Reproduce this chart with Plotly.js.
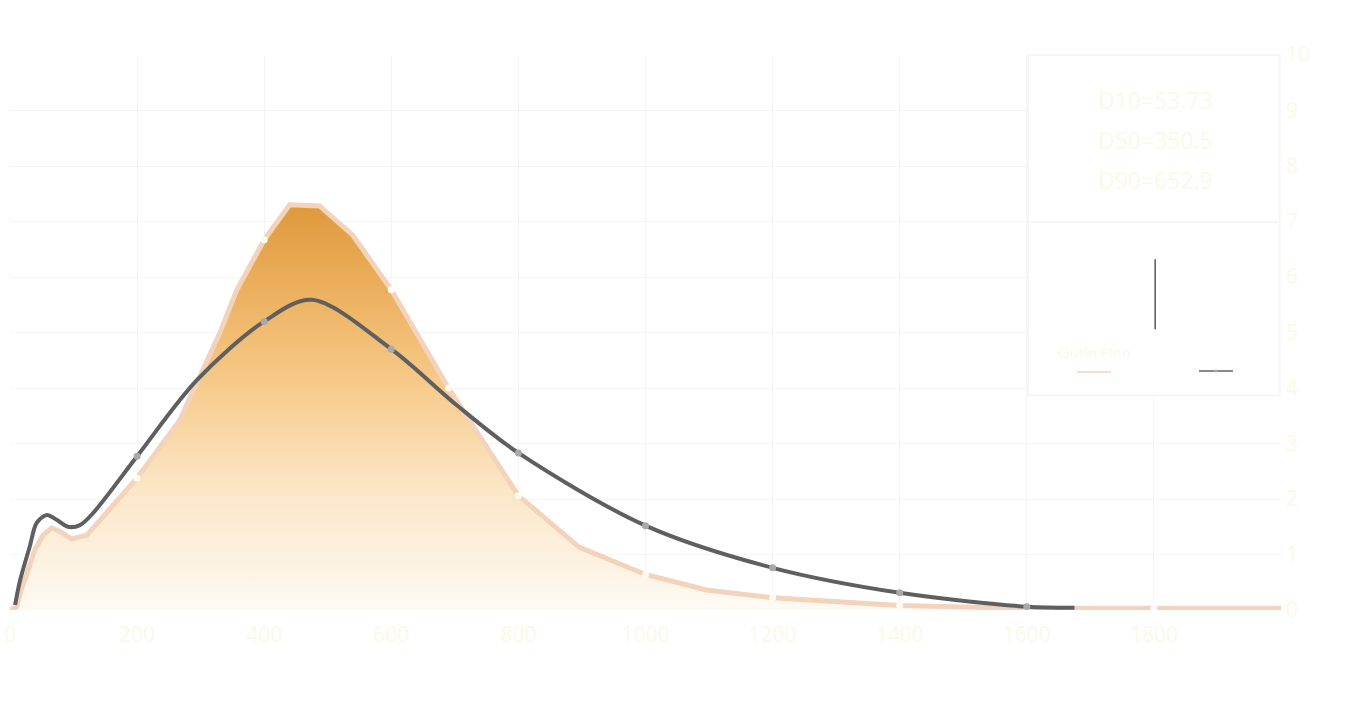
<!DOCTYPE html>
<html>
<head>
<meta charset="utf-8">
<script src="https://cdn.plot.ly/plotly-3.0.1.min.js"></script>
<style>
  html, body { margin: 0; padding: 0; background: #fff; }
  #chart { width: 1363px; height: 705px; }
</style>
</head>
<body>
<div id="chart"></div>
<script>
'use strict'

// orange (filled) distribution
const fineX = [0, 10, 16, 26, 39, 52, 66, 79, 97, 121, 200, 267, 294, 330, 357, 400, 440, 487, 539, 600, 690, 800, 896, 1000, 1096, 1200, 1400, 1600, 1800, 2000];
const fineY = [0, 0.05, 0.3, 0.67, 1.08, 1.35, 1.48, 1.41, 1.28, 1.35, 2.38, 3.42, 4.09, 4.99, 5.77, 6.67, 7.30, 7.28, 6.76, 5.77, 4.0, 2.06, 1.13, 0.64, 0.36, 0.22, 0.08, 0.03, 0.03, 0.03];
const fineMarkX = [200, 400, 600, 690, 800, 1000, 1200, 1400, 1600, 1800];

// grey smooth curve
const greyX = [8, 16, 31, 42, 58, 74, 91, 110, 131, 200, 294, 400, 475, 600, 703, 800, 1000, 1200, 1400, 1600, 1675];
const greyY = [0.09, 0.54, 1.14, 1.57, 1.71, 1.62, 1.50, 1.53, 1.75, 2.77, 4.14, 5.20, 5.59, 4.70, 3.69, 2.83, 1.52, 0.76, 0.31, 0.06, 0.04];
const greyMarkX = [200, 400, 600, 800, 1000, 1200, 1400, 1600];

const xTicks = [0, 200, 400, 600, 800, 1000, 1200, 1400, 1600, 1800, 2000];
const xTickText = ['0', '200', '400', '600', '800', '1000', '1200', '1400', '1600', '1800', ''];
const yTicks = [0, 1, 2, 3, 4, 5, 6, 7, 8, 9, 10];

const statLines = ['D10=53.73', 'D50=350.5', 'D90=652.9'];
const legendName = 'Outln Fino';

const pick = (xs, ys, keep) => keep.map(k => ys[xs.indexOf(k)]);

const cream = '#fdf7ea';
const gridCol = '#f5f5f5';
const boxLine = '#f6f6f6';

const traces = [
    {
        x: fineX, y: fineY,
        type: 'scatter', mode: 'lines',
        name: legendName,
        line: { color: '#f4d3bc', width: 5 },
        fill: 'tozeroy',
        fillgradient: {
            type: 'vertical',
            colorscale: [
                [0, '#fefaf4'],
                [0.3, '#fbe6c6'],
                [0.55, '#f7cb8b'],
                [0.8, '#ebaf5c'],
                [1, '#df993b']
            ]
        },
        hoverinfo: 'skip',
        showlegend: false
    },
    {
        x: fineMarkX, y: pick(fineX, fineY, fineMarkX),
        type: 'scatter', mode: 'markers',
        marker: { color: '#fffaf2', size: 7 },
        hoverinfo: 'skip',
        showlegend: false
    },
    {
        x: greyX, y: greyY,
        type: 'scatter', mode: 'lines',
        line: { color: '#5f5f5f', width: 4, shape: 'spline', smoothing: 0.9 },
        hoverinfo: 'skip',
        showlegend: false
    },
    {
        x: greyMarkX, y: pick(greyX, greyY, greyMarkX),
        type: 'scatter', mode: 'markers',
        marker: { color: '#a9a9a9', size: 7 },
        hoverinfo: 'skip',
        showlegend: false
    }
];

// the stats box at the top right, in paper coordinates
const shapes = [
    { type: 'rect', xref: 'paper', yref: 'paper', x0: 0.801, x1: 0.999, y0: 0.387, y1: 1.0,
      fillcolor: '#ffffff', line: { color: boxLine, width: 2 }, layer: 'above' },
    { type: 'line', xref: 'paper', yref: 'paper', x0: 0.801, x1: 0.999, y0: 0.699, y1: 0.699,
      line: { color: boxLine, width: 2 }, layer: 'above' },
    { type: 'line', xref: 'paper', yref: 'paper', x0: 0.901, x1: 0.901, y0: 0.506, y1: 0.632,
      line: { color: '#555555', width: 1.5 }, layer: 'above' },
    // legend samples
    { type: 'line', xref: 'paper', yref: 'paper', x0: 0.8395, x1: 0.8663, y0: 0.4288, y1: 0.4288,
      line: { color: '#f4d3bc', width: 1.5 }, layer: 'above' },
    { type: 'line', xref: 'paper', yref: 'paper', x0: 0.9355, x1: 0.9622, y0: 0.4306, y1: 0.4306,
      line: { color: '#5f5f5f', width: 1.5 }, layer: 'above' },
    { type: 'circle', xref: 'paper', yref: 'paper', x0: 0.9472, x1: 0.9504, y0: 0.4280, y1: 0.4334,
      fillcolor: '#a9a9a9', line: { width: 0 }, layer: 'above' }
];

const annotations = statLines.map((t, i) => ({
    text: t, xref: 'paper', yref: 'paper',
    x: 0.901, y: 0.919 - i * 0.072,
    showarrow: false, xanchor: 'center', yanchor: 'middle',
    font: { family: 'Open Sans', size: 23, color: cream }
}));
annotations.push({
    text: legendName, xref: 'paper', yref: 'paper',
    x: 0.8230, y: 0.464, xanchor: 'left', yanchor: 'middle', showarrow: false,
    font: { family: 'Open Sans', size: 15, color: cream }
});

const layout = {
    width: 1363,
    height: 705,
    margin: { l: 10, r: 82, t: 55, b: 95 },
    paper_bgcolor: '#ffffff',
    plot_bgcolor: '#ffffff',
    font: { family: 'Open Sans', color: cream, size: 21 },
    showlegend: false,
    xaxis: {
        range: [0, 2000],
        tickvals: xTicks,
        ticktext: xTickText,
        showgrid: true,
        gridcolor: gridCol,
        zeroline: false,
        showline: false,
        ticks: '',
        ticklabelstandoff: 10,
        tickfont: { size: 21, color: cream },
        fixedrange: true
    },
    yaxis: {
        range: [0, 10],
        side: 'right',
        tickvals: yTicks,
        showgrid: true,
        gridcolor: gridCol,
        zeroline: false,
        showline: false,
        ticks: '',
        ticklabelstandoff: 4,
        tickfont: { size: 21, color: cream },
        fixedrange: true
    },
    shapes: shapes,
    annotations: annotations
};

Plotly.newPlot('chart', traces, layout, { displayModeBar: false, staticPlot: true });
</script>
</body>
</html>
